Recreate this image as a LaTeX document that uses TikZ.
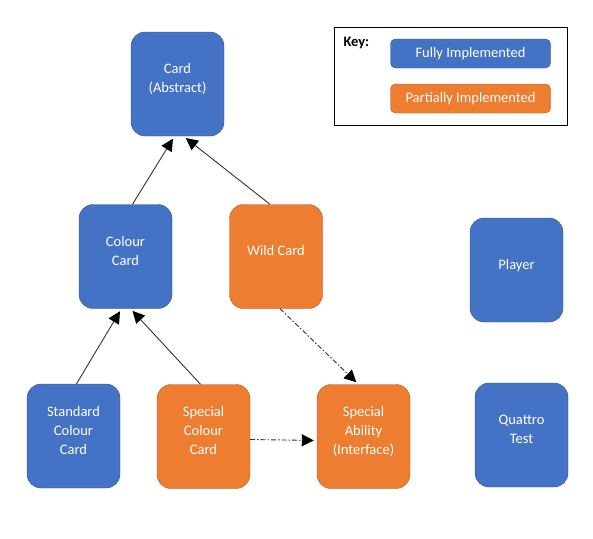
\documentclass[tikz,border=0pt]{standalone}
\usepackage{fontspec}
\setmainfont{Carlito}
\usetikzlibrary{arrows.meta}
\definecolor{fullblue}{HTML}{4472C4}
\definecolor{fullline}{HTML}{2F528F}
\definecolor{partorange}{HTML}{ED7D31}
\definecolor{partline}{HTML}{AE5A21}
\tikzset{
    full/.style={draw=fullline, fill=fullblue, rounded corners=14pt, minimum width=93pt, minimum height=104pt, text depth=12pt},
    part/.style={full, draw=partline, fill=partorange},
    keybox/.style={draw=fullline, fill=fullblue, rounded corners=5pt, minimum width=160pt, minimum height=29pt},
    inherit/.style={draw=black!80, line width=0.9pt, -{Triangle[length=12pt,width=12pt,color=black]}, shorten >=3pt},
    uses/.style={inherit, dash pattern=on 5pt off 2pt on 1.5pt off 2pt}
}
\begin{document}
\begin{tikzpicture}[x=1pt, y=-1pt, every node/.style={text=white, align=center, font=\fontsize{14.5}{19}\selectfont}]
    \useasboundingbox (0,0) rectangle (593,538);
    \node[full] (1) at (177.5,84) {Card\\(Abstract)};
    \node[full] (2) at (125.5,256.5) {Colour\\Card};
    \node[part] (3) at (276,256.5) {Wild Card};
    \node[full] (4) at (516.5,270) {Player};
    \node[full] (5) at (73.5,436) {Standard\\Colour\\Card};
    \node[part] (6) at (203.5,436.5) {Special\\Colour\\Card};
    \node[part] (7) at (363.5,436.5) {Special\\Ability\\(Interface)};
    \node[full] (8) at (521.5,435) {Quattro\\Test};
    \draw[inherit] ([xshift=7]2.north) -- ([xshift=-3]1.south);
    \draw[inherit] ([xshift=-6]3.north) -- ([xshift=6]1.south);
    \draw[inherit] ([xshift=3]5.north) -- ([xshift=-4]2.south);
    \draw[inherit] ([xshift=-3]6.north) -- ([xshift=5]2.south);
    \draw[uses] ([xshift=4]3.south) -- ([xshift=-5]7.north);
    \draw[uses] ([yshift=-3]6.east) -- ([yshift=-4]7.west);
    % key
    \node[draw=black, line width=0.8pt, minimum width=233pt, minimum height=98pt] (k) at (450.5,76) {};
    \node[text=black, font=\fontsize{14.5}{19}\selectfont\bfseries, anchor=west] (k0) at (340,43) {Key:};
    \node[keybox] (k1) at (470.5,53.5) {Fully Implemented};
    \node[keybox, draw=partline, fill=partorange] (k2) at (470.5,98.5) {Partially Implemented};
\end{tikzpicture}
\end{document}
